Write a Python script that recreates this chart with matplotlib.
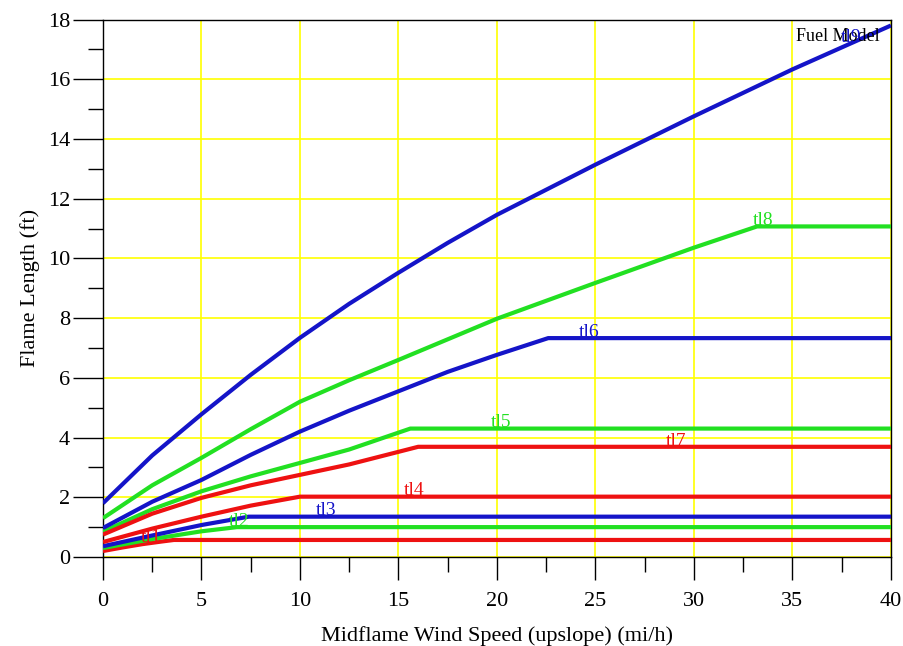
import numpy as np
from matplotlib import pyplot as plt

# dados (velocidade do vento x comprimento de chama)
wind_tl1 = [0, 1, 2, 3, 3.6, 40]
flame_tl1 = [0.2, 0.32, 0.43, 0.52, 0.57, 0.57]

wind_tl2 = [0, 2.5, 5, 6.8, 40]
flame_tl2 = [0.3, 0.6, 0.86, 1.0, 1.0]

wind_tl3 = [0, 2.5, 5, 7.4, 40]
flame_tl3 = [0.36, 0.72, 1.07, 1.35, 1.35]

wind_tl4 = [0, 2.5, 5, 7.5, 10, 40]
flame_tl4 = [0.5, 0.95, 1.35, 1.72, 2.02, 2.02]

wind_tl5 = [0, 2.5, 5, 7.5, 10, 12.5, 15.6, 40]
flame_tl5 = [0.85, 1.6, 2.2, 2.7, 3.15, 3.6, 4.3, 4.3]

wind_tl6 = [0, 2.5, 5, 7.5, 10, 12.5, 15, 17.5, 20, 22.6, 40]
flame_tl6 = [0.97, 1.85, 2.58, 3.42, 4.2, 4.9, 5.55, 6.2, 6.77, 7.33, 7.33]

wind_tl7 = [0, 2.5, 5, 7.5, 10, 12.5, 16.0, 40]
flame_tl7 = [0.75, 1.45, 1.98, 2.4, 2.75, 3.1, 3.69, 3.69]

wind_tl8 = [0, 2.5, 5, 7.5, 10, 12.5, 15, 20, 25, 30, 33.2, 40]
flame_tl8 = [1.3, 2.4, 3.32, 4.28, 5.2, 5.92, 6.6, 7.98, 9.18, 10.36, 11.07, 11.07]

wind_tl9 = [0, 1, 2.5, 5, 7.5, 10, 12.5, 15, 17.5, 20, 25, 30, 35, 40]
flame_tl9 = [1.8, 2.44, 3.4, 4.78, 6.1, 7.34, 8.48, 9.52, 10.52, 11.46, 13.14, 14.76, 16.33, 17.8]

names = ['tl1', 'tl2', 'tl3', 'tl4', 'tl5', 'tl6', 'tl7', 'tl8', 'tl9']
winds = [wind_tl1, wind_tl2, wind_tl3, wind_tl4, wind_tl5,
         wind_tl6, wind_tl7, wind_tl8, wind_tl9]
flames = [flame_tl1, flame_tl2, flame_tl3, flame_tl4, flame_tl5,
          flame_tl6, flame_tl7, flame_tl8, flame_tl9]

RED = '#ee1111'
GREEN = '#22e022'
BLUE = '#1414c8'
cores = [RED, GREEN, BLUE]

plt.rcParams['font.family'] = ['Liberation Serif', 'DejaVu Serif']

fig = plt.figure(figsize=(9.04, 6.46), dpi=100)
ax = fig.add_axes([0.1139, 0.1378, 0.8717, 0.832])

for i in range(len(names)):
    cor = cores[i % 3]
    ax.plot(winds[i], flames[i], color=cor, lw=3, solid_capstyle='butt',
            solid_joinstyle='round', zorder=3)

# rotulos das curvas, espacados ao longo do eixo x
for i in range(len(names)):
    cor = cores[i % 3]
    xl = 1.93 + 4.44 * i
    yl = np.interp(xl + 0.5, winds[i], flames[i])
    ax.text(xl, yl + 0.04, names[i], color=cor, fontsize=14,
            ha='left', va='baseline', zorder=5)

ax.text(0.986, 0.985, 'Fuel Model', transform=ax.transAxes,
        ha='right', va='top', fontsize=13, color='black', zorder=4)

ax.set_xlim(0, 40)
ax.set_ylim(0, 18)
ax.set_xticks(np.arange(0, 41, 5))
ax.set_yticks(np.arange(0, 19, 2))
ax.set_xticks(np.arange(2.5, 40, 5), minor=True)
ax.set_yticks(np.arange(1, 18, 2), minor=True)

ax.grid(True, which='major', color='#ffff00', lw=1.2, zorder=1)
ax.set_axisbelow(True)

ax.tick_params(axis='x', which='major', direction='out', length=16.5, width=1,
               labelsize=16, pad=8.5)
ax.tick_params(axis='x', which='minor', direction='out', length=11, width=1)
ax.tick_params(axis='y', which='major', direction='out', length=21.6, width=1,
               labelsize=16, pad=2)
ax.tick_params(axis='y', which='minor', direction='out', length=10.8, width=1)

for s in ax.spines.values():
    s.set_linewidth(1)
    s.set_color('black')

ax.set_xlabel('Midflame Wind Speed (upslope) (mi/h)', fontsize=16, labelpad=11)
ax.set_ylabel('Flame Length (ft)', fontsize=16, labelpad=6)

fig.savefig('out.png', dpi=100)
